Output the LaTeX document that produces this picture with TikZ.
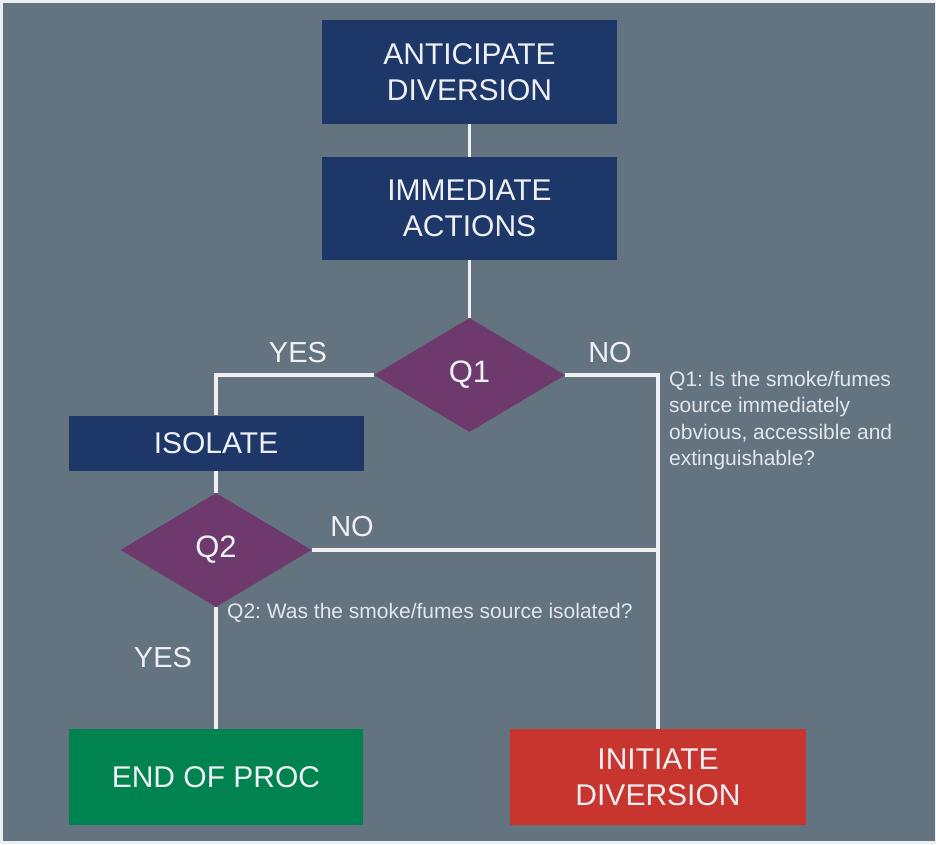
\documentclass[tikz,border=0pt]{standalone}
\usepackage{fontspec}
\setmainfont{Liberation Sans}
\usetikzlibrary{shapes.geometric}
\frenchspacing

\definecolor{bggray}{HTML}{637380}
\definecolor{navybox}{HTML}{1E3769}
\definecolor{plumdec}{HTML}{6E3A6E}
\definecolor{greenend}{HTML}{00834F}
\definecolor{reddiv}{HTML}{C8352F}
\definecolor{paletext}{HTML}{EEF0F4}

\tikzset{
    block/.style={rectangle, fill=navybox, text=paletext, align=center, inner sep=0pt,
        font=\fontsize{30}{36}\selectfont},
    decision/.style={diamond, fill=plumdec, text=paletext, inner sep=0pt, aspect=1.675,
        minimum width=191pt, minimum height=114pt, font=\fontsize{31}{36}\selectfont},
    flow/.style={draw=paletext, line width=3.5pt},
    answer/.style={text=paletext, inner sep=0pt, font=\fontsize{29}{34}\selectfont},
    note/.style={text=paletext!92!bggray, inner sep=0pt, align=left,
        font=\fontsize{21}{26.3}\selectfont}
}

\begin{document}
\begin{tikzpicture}[x=1pt, y=-1pt]
    % frame and background
    \fill[white!88!bggray] (0,0) rectangle (936,844);
    \fill[bggray] (3,3) rectangle (935,841);
    \useasboundingbox (0,0) rectangle (936,844);

    \node[block, minimum width=295pt, minimum height=104pt] (ant) at (469.5,72) {ANTICIPATE\\DIVERSION};
    \node[block, minimum width=295pt, minimum height=103pt] (imm) at (469.5,208.5) {IMMEDIATE\\ACTIONS};
    \node[decision] (q1) at (469.5,375) {Q1};
    \node[block, minimum width=295pt, minimum height=55pt] (iso) at (216,443) {ISOLATE};
    \node[decision] (q2) at (216,550) {Q2};
    \node[block, fill=greenend, minimum width=294pt, minimum height=96pt] (endp) at (216,777) {END OF PROC};
    \node[block, fill=reddiv, minimum width=296pt, minimum height=96pt] (init) at (658,777) {INITIATE\\DIVERSION};
    \coordinate (join) at (init.north |- q2.east);

    % connectors
    \draw[flow] (ant) -- (imm);
    \draw[flow] (imm) -- (q1);
    \draw[flow] (q1.west) -| (iso.north);
    \draw[flow] (q1.east) -| (init.north);
    \draw[flow] (q2.east) -- (join);
    \draw[flow] (iso) -- (q2);
    \draw[flow] (q2.south) -- (endp.north);

    % answers
    \node[answer] (yesq1) at (298,353) {YES};
    \node[answer] (noq1) at (610,353) {NO};
    \node[answer] (noq2) at (352,527) {NO};
    \node[answer] (yesq2) at (163,658) {YES};

    % question texts
    \node[note, anchor=north west] (noteq1) at (669,371) {Q1: Is the smoke/fumes\\source immediately\\obvious, accessible and\\extinguishable?};
    \node[note, anchor=west] (noteq2) at (227,613) {Q2: Was the smoke/fumes source isolated?};
\end{tikzpicture}
\end{document}
